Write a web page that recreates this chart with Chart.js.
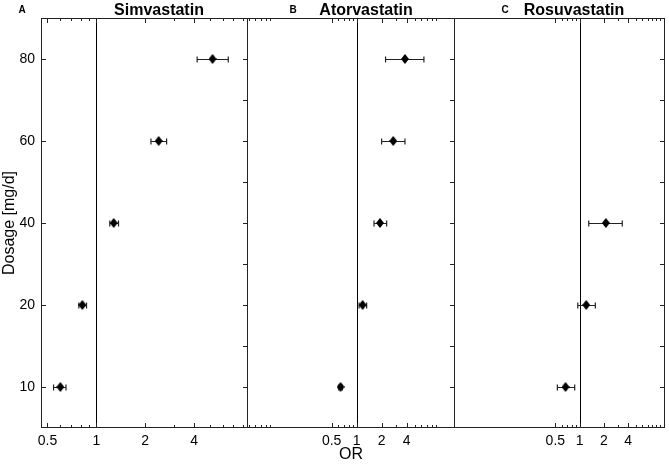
<!DOCTYPE html>
<html>
<head>
<meta charset="utf-8">
<script src="https://cdn.jsdelivr.net/npm/chart.js@4"></script>
<style>
  body { margin: 0; background: #fff; }
  canvas { position: absolute; top: 0; }
</style>
</head>
<body>
<canvas id="panelA" width="248" height="464" style="left:0px"></canvas>
<canvas id="panelB" width="208" height="464" style="left:247px"></canvas>
<canvas id="panelC" width="215" height="464" style="left:454px"></canvas>
<script>
// dosage categories (mg/d), bottom to top
const doses = ["10", "20", "40", "60", "80"];

// odds ratios with 95% CI
const simvaOR = [0.6, 0.82, 1.28, 2.42, 5.2];
const simvaLow = [0.545, 0.78, 1.21, 2.17, 4.18];
const simvaHigh = [0.65, 0.87, 1.37, 2.71, 6.5];

const atorvaOR = [0.64, 1.18, 1.91, 2.76, 3.82];
const atorvaLow = [0.61, 1.07, 1.62, 2.0, 2.23];
const atorvaHigh = [0.67, 1.32, 2.3, 3.82, 6.46];

const rosuvaOR = [0.67, 1.21, 2.12, null, null];
const rosuvaLow = [0.53, 0.95, 1.3, null, null];
const rosuvaHigh = [0.87, 1.57, 3.39, null, null];

// x axis tick values
const majorTicks = [0.5, 1, 2, 4];
const minorA = [0.6, 0.7, 0.8, 0.9, 3, 5, 6, 7, 8];
const minorB = [0.05, 0.06, 0.07, 0.08, 0.09, 0.6, 0.7, 0.8, 0.9, 3, 5, 6, 7, 8, 9];
const minorC = [0.6, 0.7, 0.8, 0.9, 3, 5, 6, 7, 8, 9, 10];

const FONT = "'Liberation Sans', Arial, Helvetica, sans-serif";

function diamondImage() {
  const c = document.createElement("canvas");
  c.width = 8;
  c.height = 10;
  const g = c.getContext("2d");
  g.fillStyle = "#000";
  g.beginPath();
  g.moveTo(4, 0);
  g.lineTo(8, 5);
  g.lineTo(4, 10);
  g.lineTo(0, 5);
  g.closePath();
  g.fill();
  return c;
}
const diamond = diamondImage();

const forestPlugin = {
  id: "forest",
  beforeDatasetsDraw(chart, args, opts) {
    const { ctx, chartArea: a } = chart;
    const x = chart.scales.x;
    const y = chart.scales.y;
    ctx.save();
    ctx.strokeStyle = "#000";
    ctx.lineWidth = 1;
    // OR = 1 reference line
    const x1 = Math.round(x.getPixelForValue(1)) + 0.5;
    ctx.beginPath();
    ctx.moveTo(x1, a.top);
    ctx.lineTo(x1, a.bottom);
    ctx.stroke();
    // confidence intervals
    ctx.strokeStyle = "#222";
    ctx.lineWidth = 1.2;
    opts.low.forEach((lo, i) => {
      const hi = opts.high[i];
      if (lo == null || hi == null) return;
      const py = Math.round(y.getPixelForValue(i)) + 0.5;
      const xl = x.getPixelForValue(lo);
      const xh = x.getPixelForValue(hi);
      ctx.beginPath();
      ctx.moveTo(xl, py);
      ctx.lineTo(xh, py);
      ctx.moveTo(xl, py - 3);
      ctx.lineTo(xl, py + 3);
      ctx.moveTo(xh, py - 3);
      ctx.lineTo(xh, py + 3);
      ctx.stroke();
    });
    ctx.restore();
  },
  afterDraw(chart, args, opts) {
    const { ctx, chartArea: a } = chart;
    const x = chart.scales.x;
    const y = chart.scales.y;
    ctx.save();
    ctx.strokeStyle = "#222";
    ctx.lineWidth = 1;
    ctx.strokeRect(a.left + 0.5, a.top + 0.5, a.width - 1, a.height - 1);

    ctx.beginPath();
    const xTick = (v, len) => {
      const px = Math.round(x.getPixelForValue(v)) + 0.5;
      ctx.moveTo(px, a.top);
      ctx.lineTo(px, a.top + len);
      ctx.moveTo(px, a.bottom);
      ctx.lineTo(px, a.bottom - len);
    };
    majorTicks.forEach(v => xTick(v, 5));
    opts.minor.forEach(v => xTick(v, 3));
    for (let i = 0; i <= doses.length - 1; i += 0.5) {
      const py = Math.round(y.getPixelForValue(i)) + 0.5;
      ctx.moveTo(a.right, py);
      ctx.lineTo(a.right - 5, py);
      if (opts.leftTicks && Number.isInteger(i)) {
        ctx.moveTo(a.left, py);
        ctx.lineTo(a.left + 5, py);
      }
    }
    ctx.stroke();

    ctx.fillStyle = "#000";
    ctx.textBaseline = "alphabetic";
    ctx.textAlign = "center";
    ctx.font = "bold 10px " + FONT;
    ctx.fillText(opts.letter, opts.letterX, 13);
    ctx.font = "bold 16px " + FONT;
    ctx.fillText(opts.title, opts.titleX, 15);
    ctx.restore();
  }
};

function makePanel(id, or, low, high, cfg) {
  const points = [];
  doses.forEach((d, i) => {
    if (or[i] != null) points.push({ x: or[i], y: d });
  });
  return new Chart(document.getElementById(id), {
    type: "scatter",
    data: {
      datasets: [{
        data: points,
        pointStyle: diamond,
        pointRadius: 5,
        backgroundColor: "#000",
        borderColor: "#000",
      }],
    },
    options: {
      responsive: false,
      animation: false,
      layout: {
        autoPadding: false,
        padding: { top: 18, right: cfg.padRight, left: 0, bottom: 0 },
      },
      scales: {
        x: {
          type: "logarithmic",
          min: cfg.min,
          max: cfg.max,
          bounds: "data",
          grid: { display: false, drawTicks: false },
          border: { display: false },
          afterBuildTicks: s => { s.ticks = majorTicks.map(v => ({ value: v })); },
          afterFit: s => { s.height = 36; s.paddingLeft = 0; s.paddingRight = 0; },
          ticks: {
            autoSkip: false,
            maxRotation: 0,
            padding: 5,
            color: "#000",
            font: { family: FONT, size: 14 },
            callback: v => String(v),
          },
          title: {
            display: cfg.xTitle,
            text: "OR",
            color: "#000",
            padding: 0,
            font: { family: FONT, size: 16 },
          },
        },
        y: {
          type: "category",
          labels: doses,
          reverse: true,
          offset: true,
          grid: { display: false, drawTicks: false },
          border: { display: false },
          afterFit: s => { s.width = cfg.showY ? 41 : 0; },
          ticks: {
            display: cfg.showY,
            padding: cfg.showY ? 6 : 0,
            color: "#000",
            font: { family: FONT, size: 14 },
          },
          title: {
            display: cfg.showY,
            text: "Dosage [mg/d]",
            color: "#000",
            padding: 0,
            font: { family: FONT, size: 16 },
          },
        },
      },
      plugins: {
        legend: { display: false },
        tooltip: { enabled: false },
        forest: {
          low: low,
          high: high,
          minor: cfg.minor,
          leftTicks: cfg.showY,
          letter: cfg.letter,
          letterX: cfg.letterX,
          title: cfg.title,
          titleX: cfg.titleX,
        },
      },
    },
    plugins: [forestPlugin],
  });
}

makePanel("panelA", simvaOR, simvaLow, simvaHigh, {
  min: 0.456, max: 8.6, minor: minorA, padRight: 0, showY: true, xTitle: false,
  letter: "A", letterX: 22, title: "Simvastatin", titleX: 159,
});
makePanel("panelB", atorvaOR, atorvaLow, atorvaHigh, {
  min: 0.0478, max: 15.3, minor: minorB, padRight: 0, showY: false, xTitle: true,
  letter: "B", letterX: 46, title: "Atorvastatin", titleX: 119,
});
makePanel("panelC", rosuvaOR, rosuvaLow, rosuvaHigh, {
  min: 0.0276, max: 11.5, minor: minorC, padRight: 4, showY: false, xTitle: false,
  letter: "C", letterX: 51, title: "Rosuvastatin", titleX: 120,
});
</script>
</body>
</html>
